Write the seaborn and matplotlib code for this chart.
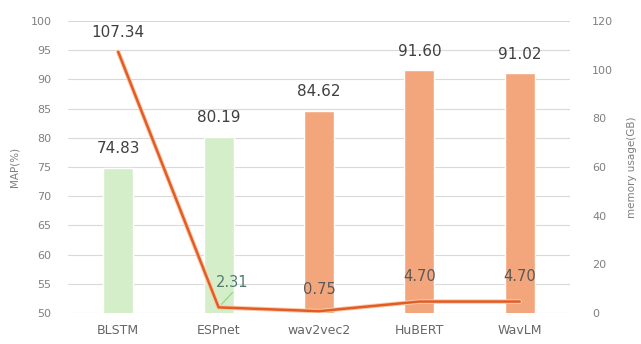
import matplotlib
matplotlib.use("Agg")
import matplotlib.pyplot as plt
import matplotlib.patheffects as pe
import seaborn as sns
import pandas as pd

models = ["BLSTM", "ESPnet", "wav2vec2", "HuBERT", "WavLM"]
map_values = [74.83, 80.19, 84.62, 91.60, 91.02]
memory_gb = [107.34, 2.31, 0.75, 4.70, 4.70]
bar_colors = ["#D5EECA", "#D5EECA", "#F3A67C", "#F3A67C", "#F3A67C"]
left_ticks = [50, 55, 60, 65, 70, 75, 80, 85, 90, 95, 100]
right_ticks = [0, 20, 40, 60, 80, 100, 120]

sns.set_theme(style="white")
plt.rcParams["font.family"] = ["DejaVu Sans"]

df = pd.DataFrame({"model": models, "map": map_values, "mem": memory_gb})

fig = plt.figure(figsize=(6.41, 3.44), dpi=100)
ax = fig.add_axes([68 / 641, 31 / 344, (570 - 68) / 641, (313 - 21) / 344])

sns.barplot(data=df, x="model", y="map", hue="model",
            palette=dict(zip(models, bar_colors)), width=0.3, saturation=1,
            dodge=False, legend=False, ax=ax, zorder=2)
ax.set_ylim(50, 100)
ax.set_yticks(left_ticks)
ax.set_xlim(-0.5, 4.5)
ax.grid(axis="y", color="#D9D9D9", linewidth=0.8, zorder=0)
ax.set_axisbelow(True)
for s in ax.spines.values():
    s.set_visible(False)
ax.tick_params(axis="y", length=0, pad=12, labelsize=8, labelcolor="#808080")
ax.tick_params(axis="x", length=0, pad=8, labelsize=9, labelcolor="#666666")
ax.set_xlabel("")
ax.set_ylabel("MAP(%)", fontsize=7.5, color="#7F7F7F", labelpad=8)

for i, v in enumerate(map_values):
    ax.annotate(f"{v:.2f}", (i, v), xytext=(0, 19), textcoords="offset pixels",
                ha="center", va="center", fontsize=11, color="#404040")

ax2 = ax.twinx()
sns.lineplot(data=df, x="model", y="mem", sort=False, ax=ax2,
             color="#E35C26", linewidth=1.8, zorder=3,
             path_effects=[pe.Stroke(linewidth=3.2, foreground="#F9CBAA"), pe.Normal()])
ax2.set_ylim(0, 120)
ax2.set_yticks(right_ticks)
ax2.set_xlim(-0.5, 4.5)
for s in ax2.spines.values():
    s.set_visible(False)
ax2.tick_params(axis="y", length=0, pad=16, labelsize=8, labelcolor="#808080")
ax2.set_ylabel("memory usage(GB)", fontsize=7.5, color="#7F7F7F", labelpad=10)
ax2.set_xlabel("")
ax2.grid(False)

offsets = [(0, 19), (14, 25), (0, 22), (0, 25), (0, 25)]
label_sizes = [11, 10.5, 10.5, 10.5, 10.5]
label_colors = ["#404040", "#4F7A6C", "#595959", "#595959", "#595959"]
for i, v in enumerate(memory_gb):
    dx, dy = offsets[i]
    ax2.annotate(f"{v:.2f}", (i, v), xytext=(dx, dy), textcoords="offset pixels",
                 ha="center", va="center", fontsize=label_sizes[i], color=label_colors[i])
ax2.annotate("", (1, memory_gb[1]), xytext=(14, 15), textcoords="offset pixels",
             xycoords="data",
             arrowprops=dict(arrowstyle="-", color="#9BD88A", lw=1.0,
                             shrinkA=0, shrinkB=3))

fig.savefig("out.png", dpi=100)
